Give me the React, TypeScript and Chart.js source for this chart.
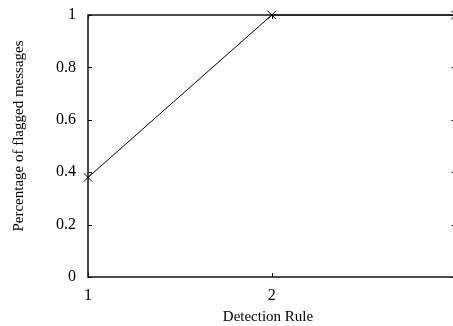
import React, { useEffect, useRef } from "react";
import { Chart, registerables } from "chart.js";

Chart.register(...registerables);

const rules = [1, 2, 3];
const flagged = [0.38, 1, 1];
const xTicks = [1, 2, 3];
const yTicks = [0, 0.2, 0.4, 0.6, 0.8, 1];
const xTitle = "Detection Rule";
const yTitle = "Percentage of flagged messages";

const FONT = "'Liberation Serif', 'Times New Roman', serif";

const framePlugin = {
  id: "frame",
  afterDatasetsDraw(chart: any) {
    const { ctx, chartArea } = chart;
    const { left, right, top, bottom } = chartArea;
    const xs = chart.scales.x;
    const ys = chart.scales.y;
    ctx.save();
    ctx.strokeStyle = "#000";
    ctx.lineWidth = 1;
    const tl = 4;
    ctx.beginPath();
    for (const v of yTicks) {
      const py = Math.round(ys.getPixelForValue(v)) + 0.5;
      ctx.moveTo(left, py);
      ctx.lineTo(left + tl, py);
      ctx.moveTo(right, py);
      ctx.lineTo(right - tl, py);
    }
    for (const v of xTicks) {
      const px = Math.round(xs.getPixelForValue(v)) + 0.5;
      ctx.moveTo(px, bottom);
      ctx.lineTo(px, bottom - tl);
      ctx.moveTo(px, top);
      ctx.lineTo(px, top + tl);
    }
    ctx.stroke();
    ctx.lineWidth = 1.5;
    ctx.strokeStyle = "#111";
    ctx.strokeRect(left, top, right - left, bottom - top);

    // axis titles
    ctx.fillStyle = "#000";
    ctx.font = `15px ${FONT}`;
    ctx.textAlign = "center";
    ctx.textBaseline = "middle";
    ctx.fillText(xTitle, 268, 317);
    ctx.translate(19, 136);
    ctx.rotate(-Math.PI / 2);
    ctx.fillText(yTitle, 0, 0);
    ctx.restore();
  },
};

export default function App() {
  const ref = useRef<HTMLCanvasElement | null>(null);
  useEffect(() => {
    if (!ref.current) return;
    const chart = new Chart(ref.current, {
      type: "line",
      data: {
        datasets: [
          {
            data: rules.map((r, i) => ({ x: r, y: flagged[i] })),
            borderColor: "#000",
            borderWidth: 1,
            pointStyle: "crossRot",
            pointRadius: 6,
            pointBorderColor: "#000",
            pointBorderWidth: 1,
            pointBackgroundColor: "#000",
            fill: false,
            tension: 0,
            clip: false as any,
          },
        ],
      },
      options: {
        animation: false,
        responsive: false,
        maintainAspectRatio: false,
        events: [],
        layout: { padding: { left: 0, top: 15, right: 14.4, bottom: 0 } },
        plugins: { legend: { display: false }, tooltip: { enabled: false } },
        scales: {
          x: {
            type: "linear",
            min: 1,
            max: 3,
            afterBuildTicks: (s: any) => {
              s.ticks = xTicks.map((v) => ({ value: v }));
            },
            afterFit: (s: any) => {
              s.height = 49;
              s.paddingLeft = 0;
              s.paddingRight = 0;
            },
            grid: { display: false, drawTicks: false },
            border: { display: false },
            ticks: {
              color: "#000",
              padding: 9,
              maxRotation: 0,
              font: { family: FONT, size: 16 },
              callback: (v: any) => (v === 3 ? "" : String(v)),
            },
          },
          y: {
            type: "linear",
            min: 0,
            max: 1,
            afterBuildTicks: (s: any) => {
              s.ticks = yTicks.map((v) => ({ value: v }));
            },
            afterFit: (s: any) => {
              s.width = 88;
              s.paddingTop = 0;
              s.paddingBottom = 0;
            },
            grid: { display: false, drawTicks: false },
            border: { display: false },
            ticks: {
              color: "#000",
              padding: 12,
              font: { family: FONT, size: 16 },
              callback: (v: any) => String(Math.round(v * 10) / 10),
            },
          },
        },
      },
      plugins: [framePlugin],
    });
    return () => chart.destroy();
  }, []);
  return (
    <div
      style={{
        position: "absolute",
        left: 0,
        top: 0,
        width: 453,
        height: 326,
        overflow: "hidden",
        background: "#fff",
      }}
    >
      <canvas ref={ref} width={470} height={326} style={{ width: 470, height: 326, display: "block" }} />
    </div>
  );
}
